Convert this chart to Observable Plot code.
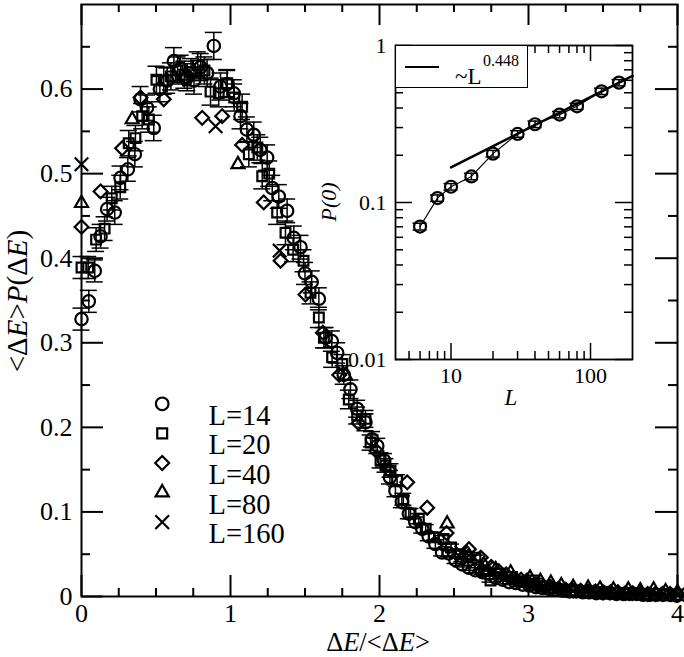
<!DOCTYPE html>
<html><head><meta charset="utf-8">
<script src="https://cdn.jsdelivr.net/npm/d3@7"></script>
<script src="https://cdn.jsdelivr.net/npm/@observablehq/plot@0.6"></script>
<style>
body{margin:0;background:#fff;}
#wrap{position:relative;width:684px;height:657px;font-family:"Liberation Serif",serif;color:#000;overflow:hidden;background:#fff}
.lbl{position:absolute;white-space:nowrap;line-height:1;font-family:"Liberation Serif",serif;color:#000}
</style></head><body><div id="wrap"></div>
<script>
// ---------- data: main panel, [x, y, err] ----------
const seriesNames = ["L=14", "L=20", "L=40", "L=80", "L=160"];
const L14 = [
[0.000,0.328,0.013],[0.049,0.349,0.013],[0.089,0.385,0.013],[0.128,0.426,0.014],[0.172,0.458,0.014],
[0.223,0.454,0.014],[0.262,0.495,0.014],[0.311,0.505,0.014],[0.358,0.523,0.015],[0.396,0.588,0.015],
[0.440,0.578,0.015],[0.485,0.554,0.015],[0.526,0.600,0.015],[0.575,0.610,0.015],[0.620,0.633,0.016],
[0.665,0.624,0.016],[0.710,0.614,0.016],[0.755,0.610,0.016],[0.800,0.626,0.016],[0.843,0.619,0.016],
[0.888,0.651,0.016],[0.933,0.603,0.016],[0.978,0.606,0.016],[1.022,0.595,0.016],[1.067,0.568,0.015],
[1.110,0.552,0.015],[1.156,0.546,0.015],[1.200,0.528,0.015],[1.246,0.519,0.015],[1.280,0.483,0.015],
[1.324,0.473,0.014],[1.380,0.456,0.014],[1.425,0.424,0.014],[1.470,0.413,0.014],[1.500,0.382,0.013],
[1.545,0.372,0.013],[1.593,0.352,0.013],[1.638,0.306,0.012],[1.680,0.302,0.012],[1.716,0.288,0.012],
[1.760,0.262,0.011],[1.805,0.245,0.011],[1.850,0.222,0.010],[1.906,0.206,0.010],[1.950,0.186,0.009],
[1.985,0.178,0.009],[2.030,0.161,0.008],[2.070,0.141,0.008],[2.107,0.125,0.007],[2.150,0.112,0.007],
[2.197,0.098,0.006],[2.240,0.088,0.006],[2.287,0.080,0.005],[2.330,0.071,0.005],[2.375,0.062,0.005],
[2.420,0.052,0.004],[2.465,0.051,0.004],[2.510,0.043,0.004],[2.555,0.038,0.003],[2.600,0.034,0.003],
[2.644,0.031,0.003],[2.690,0.029,0.003],[2.735,0.027,0.003],[2.780,0.022,0.002],[2.825,0.020,0.002],
[2.870,0.017,0.002],[2.915,0.016,0.002],[2.960,0.014,0.002],[3.005,0.013,0.002],[3.050,0.011,0.002],
[3.095,0.010,0.002],[3.140,0.009,0.001],[3.185,0.008,0.001],[3.230,0.007,0.001],[3.275,0.006,0.001],
[3.320,0.006,0.001],[3.365,0.005,0.001],[3.410,0.005,0.001],[3.455,0.004,0.001],[3.500,0.004,0.001],
[3.545,0.004,0.001],[3.590,0.003,0.001],[3.635,0.003,0.001],[3.680,0.003,0.001],[3.725,0.003,0.001],
[3.770,0.002,0.001],[3.815,0.002,0.001],[3.860,0.002,0.001],[3.905,0.002,0.001],[3.950,0.002,0.001],
[3.995,0.001,0.001]];
const L20 = [
[0.000,0.389,0.013],[0.045,0.389,0.013],[0.098,0.422,0.014],[0.155,0.435,0.014],[0.203,0.471,0.014],
[0.260,0.484,0.014],[0.317,0.536,0.015],[0.362,0.542,0.015],[0.407,0.568,0.015],[0.452,0.564,0.015],
[0.503,0.611,0.016],[0.552,0.610,0.016],[0.600,0.615,0.016],[0.645,0.622,0.016],[0.690,0.617,0.016],
[0.735,0.620,0.016],[0.780,0.628,0.016],[0.825,0.622,0.016],[0.866,0.597,0.016],[0.921,0.595,0.016],
[0.978,0.607,0.016],[1.025,0.590,0.016],[1.078,0.579,0.015],[1.123,0.523,0.015],[1.180,0.531,0.015],
[1.213,0.497,0.015],[1.260,0.500,0.015],[1.313,0.454,0.014],[1.369,0.430,0.014],[1.420,0.410,0.014],
[1.490,0.397,0.013],[1.537,0.359,0.013],[1.593,0.330,0.012],[1.627,0.306,0.012],[1.682,0.283,0.012],
[1.750,0.275,0.011],[1.794,0.233,0.011],[1.850,0.214,0.010],[1.906,0.210,0.010],[1.940,0.182,0.009],
[2.007,0.161,0.009],[2.040,0.155,0.008],[2.074,0.149,0.008],[2.118,0.137,0.007],[2.160,0.115,0.007],
[2.208,0.098,0.006],[2.264,0.092,0.006],[2.310,0.080,0.005],[2.364,0.070,0.005],[2.430,0.068,0.004],
[2.480,0.058,0.004],[2.540,0.050,0.004],[2.590,0.047,0.003],[2.644,0.046,0.003],[2.700,0.030,0.003],
[2.745,0.019,0.002],[2.810,0.027,0.002],[2.890,0.023,0.002],[2.950,0.018,0.002],[3.040,0.019,0.002],
[3.100,0.012,0.002],[3.170,0.010,0.001],[3.240,0.008,0.001],[3.300,0.007,0.001],[3.370,0.006,0.001],
[3.440,0.005,0.001],[3.510,0.005,0.001],[3.580,0.004,0.001],[3.650,0.004,0.001],[3.720,0.003,0.001],
[3.790,0.003,0.001],[3.860,0.003,0.001],[3.930,0.002,0.001],[4.000,0.002,0.001]];
const L40 = [
[0.000,0.437],[0.128,0.479],[0.273,0.530],[0.396,0.590],[0.552,0.588],[0.690,0.612],[0.810,0.566],
[0.944,0.568],[1.078,0.534],[1.223,0.466],[1.336,0.397],[1.503,0.357],[1.620,0.312],[1.730,0.262],
[1.860,0.205],[1.980,0.172],[2.060,0.150],[2.186,0.135],[2.320,0.105],[2.450,0.075],[2.600,0.056],
[2.680,0.046],[2.750,0.035],[2.800,0.030],[2.850,0.026],[2.900,0.022],[2.950,0.020],[3.000,0.016],
[3.050,0.014],[3.100,0.012],[3.150,0.011],[3.200,0.009],[3.250,0.008],[3.300,0.007],[3.350,0.007],
[3.400,0.006],[3.450,0.006],[3.500,0.005],[3.550,0.005],[3.600,0.005],[3.650,0.004],[3.700,0.004],
[3.750,0.004],[3.800,0.003],[3.850,0.003],[3.900,0.003],[3.950,0.003],[4.000,0.002]];
const L80 = [
[0.000,0.465],[0.340,0.564],[1.050,0.511],[1.772,0.261],[2.454,0.086],[2.600,0.048],[2.700,0.038],
[2.780,0.032],[2.880,0.028],[3.010,0.022],[3.080,0.018],[3.150,0.016],[3.220,0.013],[3.300,0.011],
[3.400,0.010],[3.480,0.009],[3.570,0.008],[3.670,0.008],[3.750,0.007],[3.840,0.008],[3.920,0.006],[4.000,0.005]];
const L160 = [
[0.000,0.511],[0.900,0.556],[1.330,0.409],[2.550,0.052],[2.720,0.034],[2.950,0.020],[3.100,0.013],
[3.250,0.009],[3.400,0.006],[3.550,0.005],[3.700,0.004],[3.850,0.003],[4.000,0.002]];

// ---------- ticks: main panel ----------
const xMajor = [0, 1, 2, 3, 4];
const xTickLabels = ["0", "1", "2", "3", "4"];
const xMinor = [0.25, 0.5, 0.75, 1.25, 1.5, 1.75, 2.25, 2.5, 2.75, 3.25, 3.5, 3.75];
const yMajor = [0, 0.1, 0.2, 0.3, 0.4, 0.5, 0.6];
const yTickLabels = ["0", "0.1", "0.2", "0.3", "0.4", "0.5", "0.6"];
const yMinor = [0.05, 0.15, 0.25, 0.35, 0.45, 0.55, 0.65];

// ---------- data: inset ----------
const insetL = [6, 8, 10, 14, 20, 30, 40, 60, 80, 120, 160];
const insetP0 = [0.0703, 0.1067, 0.126, 0.1466, 0.2047, 0.2735, 0.315, 0.363, 0.41, 0.511, 0.58];
const insetErr = [0.0035, 0.005, 0.006, 0.007, 0.010, 0.013, 0.015, 0.017, 0.019, 0.024, 0.027];
const fitExponent = 0.448;
const fitAmplitude = 0.0597;
const fitRange = [10, 200];
const insetXMajor = [10, 100];
const insetXLabels = ["10", "100"];
const insetXMinor = [5, 6, 7, 8, 9, 20, 30, 40, 50, 60, 70, 80, 90];
const insetYMajor = [0.01, 0.1, 1];
const insetYLabels = ["0.01", "0.1", "1"];
const insetYMinor = [0.02,0.03,0.04,0.05,0.06,0.07,0.08,0.09,0.2,0.3,0.4,0.5,0.6,0.7,0.8,0.9];

// ---------- main plot ----------
const W = 684, H = 657, mL = 81, mR = 7, mT = 4, mB = 61;
const iW = W - mL - mR, iH = H - mT - mB;
const symbols = ["circle", "square2", "diamond2", "triangle2", "times"];
const seriesData = [L14, L20, L40, L80, L160];

function errMarks(data, cap) {
  return [
    Plot.ruleX(data, {x: d => d[0], y1: d => d[1] - d[2], y2: d => d[1] + d[2], strokeWidth: 1.5}),
    Plot.ruleY(data, {x1: d => d[0], x2: d => d[0], y: d => d[1] + d[2], insetLeft: -cap, insetRight: -cap, strokeWidth: 1.5}),
    Plot.ruleY(data, {x1: d => d[0], x2: d => d[0], y: d => d[1] - d[2], insetLeft: -cap, insetRight: -cap, strokeWidth: 1.5})
  ];
}

const mainMarks = [
  ...errMarks(L14, 8.5),
  ...errMarks(L20, 8.5),
  ...seriesData.map((data, i) => Plot.dot(data, {
    x: d => d[0], y: d => d[1], symbol: symbols[i], r: 6.2, stroke: "black", strokeWidth: 2.2, fill: "none"
  })),
  Plot.tickX(xMajor, {x: d => d, insetTop: iH - 21, strokeWidth: 2}),
  Plot.tickX(xMajor, {x: d => d, insetBottom: iH - 21, strokeWidth: 2}),
  Plot.tickX(xMinor, {x: d => d, insetTop: iH - 8, strokeWidth: 2}),
  Plot.tickX(xMinor, {x: d => d, insetBottom: iH - 8, strokeWidth: 2}),
  Plot.tickY(yMajor, {y: d => d, insetRight: iW - 22, strokeWidth: 2}),
  Plot.tickY(yMajor, {y: d => d, insetLeft: iW - 22, strokeWidth: 2}),
  Plot.tickY(yMinor, {y: d => d, insetRight: iW - 9, strokeWidth: 2}),
  Plot.tickY(yMinor, {y: d => d, insetLeft: iW - 9, strokeWidth: 2}),
  Plot.frame({strokeWidth: 2}),
  Plot.axisX(xMajor, {tickSize: 0, tickPadding: 7, label: null, tickFormat: d => xTickLabels[xMajor.indexOf(d)]}),
  Plot.axisY(yMajor, {tickSize: 0, tickPadding: 9, label: null, tickFormat: d => yTickLabels[yMajor.indexOf(d)]}),
  ...seriesNames.flatMap((name, i) => [
    Plot.dot([name], {frameAnchor: "top-left", dx: 80.7, dy: 399.3 + i * 29.6, symbol: symbols[i], r: 6.3, stroke: "black", strokeWidth: 2.2, fill: "none"}),
    Plot.text([name], {frameAnchor: "top-left", dx: 127, dy: 400 + i * 29.6, text: d => d, textAnchor: "start", fontSize: 28.5})
  ])
];

const mainPlot = Plot.plot({
  width: W, height: H, marginLeft: mL, marginRight: mR, marginTop: mT, marginBottom: mB,
  x: {domain: [0, 4]}, y: {domain: [0, 0.7]},
  style: {fontFamily: "'Liberation Serif', serif", fontSize: "26px", background: "transparent", overflow: "visible", position: "absolute", left: "0px", top: "0px"},
  marks: mainMarks
});

// ---------- inset ----------
const iL = 60, iR = 10, iT = 10, iB = 50, inW = 237, inH = 314;
const insetPts = insetL.map((l, i) => ({L: l, P: insetP0[i], e: insetErr[i]}));
const fitPts = fitRange.map(l => ({L: l, P: fitAmplitude * Math.pow(l, fitExponent)}));

const insetPlot = Plot.plot({
  width: iL + inW + iR, height: iT + inH + iB, marginLeft: iL, marginRight: iR, marginTop: iT, marginBottom: iB,
  x: {type: "log", domain: [4, 200]}, y: {type: "log", domain: [0.01, 1]},
  style: {fontFamily: "'Liberation Serif', serif", fontSize: "22px", background: "transparent", overflow: "visible", position: "absolute", left: "335px", top: "35px"},
  marks: [
    Plot.frame({fill: "white", stroke: "none"}),
    Plot.line(insetPts, {x: "L", y: "P", strokeWidth: 1.2}),
    Plot.line(fitPts, {x: "L", y: "P", strokeWidth: 2.6}),
    Plot.ruleX(insetPts, {x: "L", y1: d => d.P - d.e, y2: d => d.P + d.e, strokeWidth: 1.5}),
    Plot.ruleY(insetPts, {x1: "L", x2: "L", y: d => d.P + d.e, insetLeft: -7, insetRight: -7, strokeWidth: 1.5}),
    Plot.ruleY(insetPts, {x1: "L", x2: "L", y: d => d.P - d.e, insetLeft: -7, insetRight: -7, strokeWidth: 1.5}),
    Plot.dot(insetPts, {x: "L", y: "P", r: 6, stroke: "black", strokeWidth: 2.2, fill: "none"}),
    Plot.tickX(insetXMajor, {x: d => d, insetTop: inH - 16, strokeWidth: 1.5}),
    Plot.tickX(insetXMajor, {x: d => d, insetBottom: inH - 16, strokeWidth: 1.5}),
    Plot.tickX(insetXMinor, {x: d => d, insetTop: inH - 8, strokeWidth: 1.5}),
    Plot.tickX(insetXMinor, {x: d => d, insetBottom: inH - 8, strokeWidth: 1.5}),
    Plot.tickY(insetYMajor, {y: d => d, insetRight: inW - 17, strokeWidth: 1.5}),
    Plot.tickY(insetYMajor, {y: d => d, insetLeft: inW - 17, strokeWidth: 1.5}),
    Plot.tickY(insetYMinor, {y: d => d, insetRight: inW - 8, strokeWidth: 1.5}),
    Plot.tickY(insetYMinor, {y: d => d, insetLeft: inW - 8, strokeWidth: 1.5}),
    Plot.frame({strokeWidth: 1.8}),
    Plot.axisX(insetXMajor, {tickSize: 0, tickPadding: 8, label: null, tickFormat: d => insetXLabels[insetXMajor.indexOf(d)]}),
    Plot.axisY(insetYMajor, {tickSize: 0, tickPadding: 9, label: null, tickFormat: d => insetYLabels[insetYMajor.indexOf(d)]})
  ]
});

const wrap = document.getElementById("wrap");
wrap.appendChild(mainPlot);
wrap.appendChild(insetPlot);

// ---------- text labels ----------
function addLabel(html, css) {
  const d = document.createElement("div");
  d.className = "lbl";
  d.innerHTML = html;
  Object.assign(d.style, css);
  wrap.appendChild(d);
  return d;
}
addLabel("Δ<i>E</i>/&lt;Δ<i>E</i>&gt;", {left: "378px", top: "634.9px", fontSize: "26.5px", lineHeight: "14px", transform: "translateX(-50%)"});
addLabel("&lt;Δ<i>E</i>&gt;<i>P</i>(Δ<i>E</i>)", {left: "17px", top: "301px", fontSize: "29px", transform: "translate(-50%,-50%) rotate(-90deg)"});
addLabel("<i>P(0)</i>", {left: "329px", top: "202px", fontSize: "22px", transform: "translate(-50%,-50%) rotate(-90deg)"});
addLabel("<i>L</i>", {left: "511px", top: "397px", fontSize: "23px", transform: "translate(-50%,-50%)"});
// inset legend
const box = document.createElement("div");
Object.assign(box.style, {position: "absolute", left: "395px", top: "45px", width: "133px", height: "43px", boxSizing: "border-box", border: "1.6px solid #000", background: "#fff"});
wrap.appendChild(box);
const sample = document.createElement("div");
Object.assign(sample.style, {position: "absolute", left: "405px", top: "65.5px", width: "34px", height: "2.7px", background: "#000"});
wrap.appendChild(sample);
addLabel("~L", {left: "455px", top: "65px", fontSize: "23px"});
addLabel("0.448", {left: "483px", top: "53px", fontSize: "16px"});
</script></body></html>
